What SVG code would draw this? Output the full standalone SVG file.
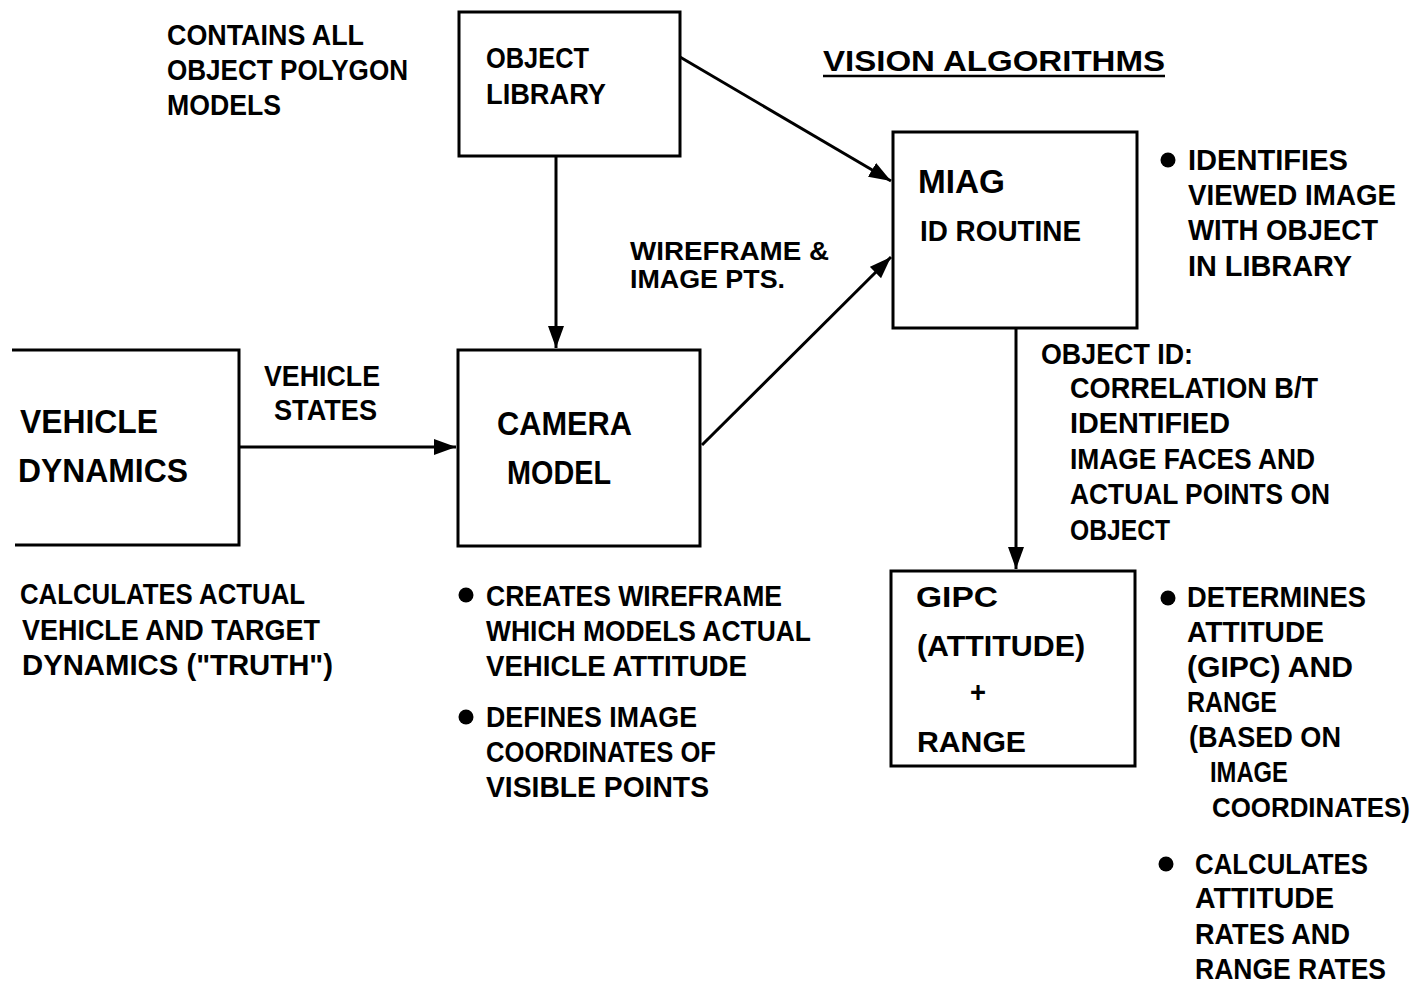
<svg xmlns="http://www.w3.org/2000/svg" width="1427" height="988" viewBox="0 0 1427 988">
<style>
.t{font-family:"Liberation Sans",Arial,sans-serif;font-weight:bold;font-size:29px;fill:#000}
.s{font-family:"Liberation Sans",Arial,sans-serif;font-weight:bold;font-size:25px;fill:#000}
.b{font-family:"Liberation Sans",Arial,sans-serif;font-weight:bold;font-size:34px;fill:#000}
.box{fill:#fff;stroke:#000;stroke-width:3}
.c{fill:none;stroke:#000;stroke-width:3}
</style>
<defs>
<marker id="ah" markerUnits="userSpaceOnUse" markerWidth="24" markerHeight="18" refX="22" refY="8" orient="auto">
<path d="M0,0 L22,8 L0,16 z" fill="#000"/>
</marker>
</defs>
<rect width="1427" height="988" fill="#fff"/>

<g id="connectors">
<line class="c" x1="556" y1="156" x2="556" y2="348" marker-end="url(#ah)"/>
<line class="c" x1="680" y1="57" x2="891" y2="181" marker-end="url(#ah)"/>
<line class="c" x1="702" y1="445" x2="891" y2="257" marker-end="url(#ah)"/>
<line class="c" x1="238" y1="447" x2="456" y2="447" marker-end="url(#ah)"/>
<line class="c" x1="1016" y1="328" x2="1016" y2="569" marker-end="url(#ah)"/>
</g>

<g id="object-library">
<rect class="box" x="459" y="12" width="221" height="144"/>
<text class="t" x="486" y="68" textLength="103" lengthAdjust="spacingAndGlyphs">OBJECT</text>
<text class="t" x="486" y="104" textLength="120" lengthAdjust="spacingAndGlyphs">LIBRARY</text>
</g>

<g id="object-library-note">
<text class="t" x="167" y="45" textLength="197" lengthAdjust="spacingAndGlyphs">CONTAINS ALL</text>
<text class="t" x="167" y="80" textLength="241" lengthAdjust="spacingAndGlyphs">OBJECT POLYGON</text>
<text class="t" x="167" y="115" textLength="114" lengthAdjust="spacingAndGlyphs">MODELS</text>
</g>

<g id="title">
<text class="t" x="823" y="71" textLength="342" lengthAdjust="spacingAndGlyphs">VISION ALGORITHMS</text>
<line x1="823" y1="76" x2="1165" y2="76" stroke="#000" stroke-width="2.5"/>
</g>

<g id="miag">
<rect class="box" x="893" y="132" width="244" height="196"/>
<text class="b" x="918" y="193" textLength="87" lengthAdjust="spacingAndGlyphs">MIAG</text>
<text class="t" x="920" y="241" textLength="161" lengthAdjust="spacingAndGlyphs">ID ROUTINE</text>
</g>

<g id="miag-note">
<circle cx="1168" cy="160" r="7.5"/>
<text class="t" x="1188" y="170" textLength="160" lengthAdjust="spacingAndGlyphs">IDENTIFIES</text>
<text class="t" x="1188" y="205" textLength="208" lengthAdjust="spacingAndGlyphs">VIEWED IMAGE</text>
<text class="t" x="1188" y="240" textLength="190" lengthAdjust="spacingAndGlyphs">WITH OBJECT</text>
<text class="t" x="1188" y="276" textLength="164" lengthAdjust="spacingAndGlyphs">IN LIBRARY</text>
</g>

<g id="wireframe-label">
<text class="s" x="630" y="260" textLength="199" lengthAdjust="spacingAndGlyphs">WIREFRAME &amp;</text>
<text class="s" x="630" y="288" textLength="155" lengthAdjust="spacingAndGlyphs">IMAGE PTS.</text>
</g>

<g id="vehicle-dynamics">
<path class="box" d="M12,350 L239,350 L239,545 L15,545"/>
<text class="b" x="20" y="433" textLength="138" lengthAdjust="spacingAndGlyphs">VEHICLE</text>
<text class="b" x="18" y="482" textLength="170" lengthAdjust="spacingAndGlyphs">DYNAMICS</text>
</g>

<g id="vehicle-states-label">
<text class="t" x="264" y="386" textLength="116" lengthAdjust="spacingAndGlyphs">VEHICLE</text>
<text class="t" x="274" y="420" textLength="103" lengthAdjust="spacingAndGlyphs">STATES</text>
</g>

<g id="vehicle-note">
<text class="t" x="20" y="604" textLength="285" lengthAdjust="spacingAndGlyphs">CALCULATES ACTUAL</text>
<text class="t" x="22" y="640" textLength="298" lengthAdjust="spacingAndGlyphs">VEHICLE AND TARGET</text>
<text class="t" x="22" y="675" textLength="311" lengthAdjust="spacingAndGlyphs">DYNAMICS ("TRUTH")</text>
</g>

<g id="camera-model">
<rect class="box" x="458" y="350" width="242" height="196"/>
<text class="b" x="497" y="435" textLength="135" lengthAdjust="spacingAndGlyphs">CAMERA</text>
<text class="b" x="507" y="484" textLength="104" lengthAdjust="spacingAndGlyphs">MODEL</text>
</g>

<g id="camera-note">
<circle cx="466" cy="595" r="7.5"/>
<text class="t" x="486" y="606" textLength="296" lengthAdjust="spacingAndGlyphs">CREATES WIREFRAME</text>
<text class="t" x="486" y="641" textLength="325" lengthAdjust="spacingAndGlyphs">WHICH MODELS ACTUAL</text>
<text class="t" x="486" y="676" textLength="261" lengthAdjust="spacingAndGlyphs">VEHICLE ATTITUDE</text>
<circle cx="466" cy="717" r="7.5"/>
<text class="t" x="486" y="727" textLength="211" lengthAdjust="spacingAndGlyphs">DEFINES IMAGE</text>
<text class="t" x="486" y="762" textLength="230" lengthAdjust="spacingAndGlyphs">COORDINATES OF</text>
<text class="t" x="486" y="797" textLength="223" lengthAdjust="spacingAndGlyphs">VISIBLE POINTS</text>
</g>

<g id="object-id-label">
<text class="t" x="1041" y="364" textLength="152" lengthAdjust="spacingAndGlyphs">OBJECT ID:</text>
<text class="t" x="1070" y="398" textLength="248" lengthAdjust="spacingAndGlyphs">CORRELATION B/T</text>
<text class="t" x="1070" y="433" textLength="160" lengthAdjust="spacingAndGlyphs">IDENTIFIED</text>
<text class="t" x="1070" y="469" textLength="245" lengthAdjust="spacingAndGlyphs">IMAGE FACES AND</text>
<text class="t" x="1070" y="504" textLength="260" lengthAdjust="spacingAndGlyphs">ACTUAL POINTS ON</text>
<text class="t" x="1070" y="540" textLength="100" lengthAdjust="spacingAndGlyphs">OBJECT</text>
</g>

<g id="gipc">
<rect class="box" x="891" y="571" width="244" height="195"/>
<text class="t" x="916" y="607" textLength="82" lengthAdjust="spacingAndGlyphs">GIPC</text>
<text class="t" x="917" y="656" textLength="168" lengthAdjust="spacingAndGlyphs">(ATTITUDE)</text>
<text class="t" x="970" y="702" textLength="16" lengthAdjust="spacingAndGlyphs">+</text>
<text class="t" x="917" y="752" textLength="109" lengthAdjust="spacingAndGlyphs">RANGE</text>
</g>

<g id="gipc-note">
<circle cx="1168" cy="598" r="7.5"/>
<text class="t" x="1187" y="607" textLength="179" lengthAdjust="spacingAndGlyphs">DETERMINES</text>
<text class="t" x="1187" y="642" textLength="137" lengthAdjust="spacingAndGlyphs">ATTITUDE</text>
<text class="t" x="1187" y="677" textLength="166" lengthAdjust="spacingAndGlyphs">(GIPC) AND</text>
<text class="t" x="1187" y="712" textLength="90" lengthAdjust="spacingAndGlyphs">RANGE</text>
<text class="t" x="1189" y="747" textLength="152" lengthAdjust="spacingAndGlyphs">(BASED ON</text>
<text class="t" x="1210" y="782" textLength="78" lengthAdjust="spacingAndGlyphs">IMAGE</text>
<text x="1212" y="817" font-family="Liberation Sans, Arial, sans-serif" font-weight="bold" font-size="27" textLength="198" lengthAdjust="spacingAndGlyphs">COORDINATES)</text>
<circle cx="1166" cy="864" r="7.5"/>
<text class="t" x="1195" y="874" textLength="173" lengthAdjust="spacingAndGlyphs">CALCULATES</text>
<text class="t" x="1195" y="908" textLength="139" lengthAdjust="spacingAndGlyphs">ATTITUDE</text>
<text class="t" x="1195" y="944" textLength="155" lengthAdjust="spacingAndGlyphs">RATES AND</text>
<text class="t" x="1195" y="979" textLength="191" lengthAdjust="spacingAndGlyphs">RANGE RATES</text>
</g>
</svg>
